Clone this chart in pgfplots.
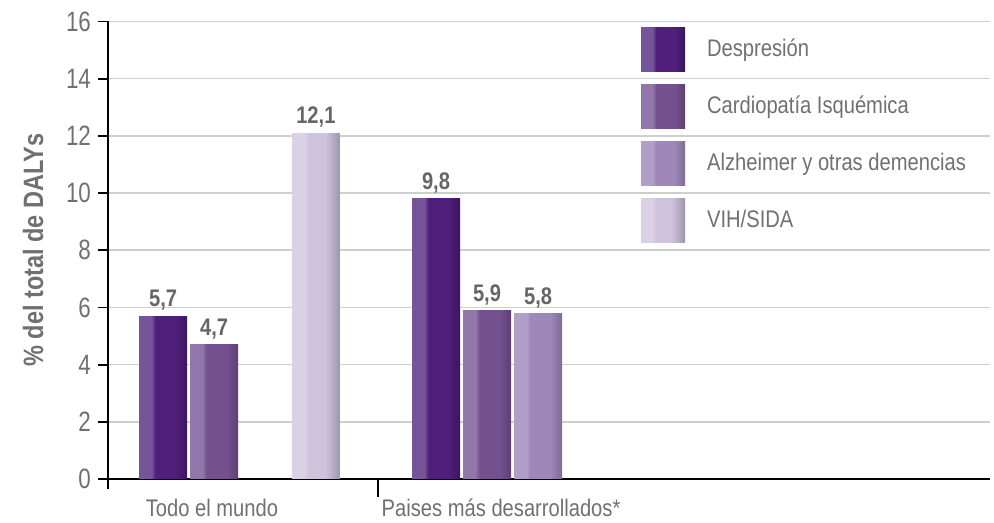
\documentclass[border=0pt]{standalone}
\usepackage{fontspec}
\setmainfont{Liberation Sans}[FakeStretch=0.84]
\newfontfamily\numfont{Liberation Sans}[FakeStretch=0.80]
\usepackage{pgfplots}
\pgfplotsset{compat=1.18}
\definecolor{dep}{HTML}{4F1F7B}\definecolor{depL}{HTML}{76549A}\definecolor{depD}{HTML}{3C1560}
\definecolor{car}{HTML}{75508F}\definecolor{carL}{HTML}{9277AB}\definecolor{carD}{HTML}{5C3F73}
\definecolor{alz}{HTML}{9E87B9}\definecolor{alzL}{HTML}{B29FC8}\definecolor{alzD}{HTML}{7E6A93}
\definecolor{vih}{HTML}{CEC3DC}\definecolor{vihL}{HTML}{DAD2E4}\definecolor{vihD}{HTML}{9D93AB}
\definecolor{gridgray}{HTML}{CFCFCF}
\definecolor{tickgray}{HTML}{707070}
\definecolor{labgray}{HTML}{666666}
\pgfdeclarehorizontalshading{depsh}{100bp}{color(0bp)=(depL); color(38bp)=(depL); color(42bp)=(dep); color(63bp)=(dep); color(75bp)=(depD); color(100bp)=(depD)}
\pgfdeclarehorizontalshading{carsh}{100bp}{color(0bp)=(carL); color(38bp)=(carL); color(42bp)=(car); color(63bp)=(car); color(75bp)=(carD); color(100bp)=(carD)}
\pgfdeclarehorizontalshading{alzsh}{100bp}{color(0bp)=(alzL); color(38bp)=(alzL); color(42bp)=(alz); color(63bp)=(alz); color(75bp)=(alzD); color(100bp)=(alzD)}
\pgfdeclarehorizontalshading{vihsh}{100bp}{color(0bp)=(vihL); color(38bp)=(vihL); color(42bp)=(vih); color(60bp)=(vih); color(75bp)=(vihD); color(100bp)=(vihD)}
\newcommand\chartfont{\fontsize{12}{14.4}\selectfont}
\pgfplotsset{
  depbar/.style={ybar, bar width=24pt, draw=none, shade, shading=depsh},
  carbar/.style={ybar, bar width=24pt, draw=none, shade, shading=carsh},
  alzbar/.style={ybar, bar width=24pt, draw=none, shade, shading=alzsh},
  vihbar/.style={ybar, bar width=24pt, draw=none, shade, shading=vihsh},
}
\begin{document}
\begin{tikzpicture}
\begin{axis}[
  scale only axis, width=441pt, height=228.75pt,
  xmin=0, xmax=3.267, ymin=0, ymax=16,
  axis x line=bottom, axis y line=left,
  axis line style={-, black, line width=0.9pt},
  /pgf/number format/assume math mode=true,
  ytick={0,2,...,16},
  ymajorgrids, grid style={color=gridgray, line width=0.75pt},
  major tick length=5pt, tick align=outside,
  tick style={black, line width=0.9pt},
  xtick={0,1}, xticklabels={},
  xtick style={shorten <=-4pt},
  extra x ticks={0.385,1.456},
  extra x tick labels={Todo el mundo, Paises más desarrollados*},
  extra x tick style={tick style={draw=none}},
  xticklabel style={font=\chartfont, text=tickgray, yshift=-1.5pt},
  yticklabel style={font=\fontsize{14}{16}\selectfont\numfont, text=tickgray},
  ylabel={\% del total de DALYs},
  ylabel style={at={(axis description cs:-0.085,0.5)}, anchor=center, font=\fontsize{14}{16}\selectfont\bfseries, text=tickgray},
  nodes near coords={\pgfmathprintnumber[fixed, fixed zerofill, precision=1, use comma]{\pgfplotspointmeta}},
  nodes near coords style={font=\chartfont\bfseries, text=labgray, inner sep=2.5pt},
  legend style={at={(0.604,0.988)}, anchor=north west, draw=none, fill=none, inner sep=0pt,
    row sep=6.5pt, column sep=11pt, nodes={inner sep=0pt, anchor=west}, font=\chartfont, text=tickgray},
  legend cell align=left,
  legend image code/.code={\fill[#1] (0pt,-11.2pt) rectangle (22pt,10.8pt);},
]
\addplot[depbar] coordinates {(0.204,5.7)};
\addlegendentry{Despresión}
\addplot[carbar] coordinates {(0.393,4.7)};
\addlegendentry{Cardiopatía Isquémica}
\addplot[alzbar] coordinates {(1.593,5.8)};
\addlegendentry{Alzheimer y otras demencias}
\addplot[vihbar] coordinates {(0.770,12.1)};
\addlegendentry{VIH/SIDA}
\addplot[depbar, forget plot] coordinates {(1.215,9.8)};
\addplot[carbar, forget plot] coordinates {(1.404,5.9)};
\end{axis}
\pgfresetboundingbox
\path[use as bounding box] ([xshift=-54pt,yshift=-22pt]current axis.south west) rectangle ([xshift=2pt,yshift=10.75pt]current axis.north east);
\end{tikzpicture}
\end{document}
